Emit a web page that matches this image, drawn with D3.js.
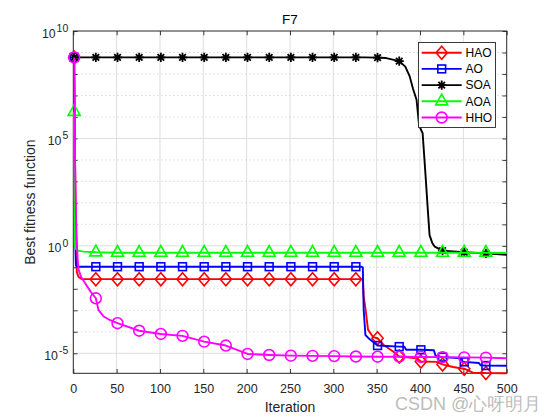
<!DOCTYPE html>
<html><head><meta charset="utf-8">
<script src="https://cdn.jsdelivr.net/npm/d3@7/dist/d3.min.js"></script>
<style>body{margin:0;background:#fff}svg{display:block}text{font-family:"Liberation Sans",Arial,sans-serif}</style>
</head><body><svg id="c" width="560" height="420"></svg>
<script>
// ---- data ----
const seriesNames = ["HAO","AO","SOA","AOA","HHO"];
const xTicks = [0,50,100,150,200,250,300,350,400,450,500];
const yMajorExp = [-5,0,5,10];

const haoIter = [1,2,3,4,6,10,26,51,76,101,126,151,176,201,226,251,276,301,326,334,335,337,340,346,351,358,369,376,396,401,419,426,438,451,461,476,500];
const haoVal  = [5.89e8,1e4,10,0.063,0.0355,0.0282,0.0282,0.0282,0.0282,0.0282,0.0282,0.0282,0.0282,0.0282,0.0282,0.0282,0.0282,0.0282,0.0282,0.0282,4.37e-3,1.26e-3,1.26e-4,5.62e-5,5.01e-5,2.45e-5,1.2e-5,7.08e-6,5.89e-6,4.17e-6,3.98e-6,3.02e-6,2.29e-6,1.91e-6,1.26e-6,1.2e-6,1.17e-6];

const aoIter = [1,2,3,4,26,51,76,101,126,151,176,201,226,251,276,301,326,332,334,335,337,342,351,376,382,384,401,416,418,426,448,449,451,468,470,476,500];
const aoVal  = [5.89e8,3.16,0.126,0.107,0.107,0.107,0.107,0.107,0.107,0.107,0.107,0.107,0.107,0.107,0.107,0.107,0.107,0.107,0.1,1.05e-3,7.08e-5,4.47e-5,2.29e-5,2.04e-5,2.0e-5,1.45e-5,1.45e-5,1.38e-5,7.59e-6,6.61e-6,5.89e-6,4.07e-6,3.98e-6,3.55e-6,2.75e-6,2.69e-6,2.63e-6];

const soaIter = [1,26,51,76,101,126,151,176,201,226,251,276,301,326,336,351,361,376,383,388,392,396,399,403,406,409,411,414,417,423,426,451,476,500];
const soaVal  = [5.89e8,5.89e8,5.89e8,5.89e8,5.89e8,5.89e8,5.89e8,5.89e8,5.89e8,5.89e8,5.89e8,5.89e8,5.89e8,5.89e8,5.89e8,5.75e8,5.5e8,3.98e8,2.19e8,7.94e7,2.0e7,6.31e6,3.98e5,1.78e5,3.16e3,46.8,3.16,1.41,0.912,0.692,0.603,0.501,0.447,0.38];

const aoaIter = [1,2,3,5,12,26,51,76,101,126,151,176,201,226,251,276,301,326,351,376,401,426,451,476,500];
const aoaVal  = [1.74e6,0.891,0.708,0.603,0.537,0.501,0.479,0.479,0.479,0.479,0.479,0.479,0.479,0.479,0.479,0.479,0.479,0.479,0.479,0.479,0.479,0.479,0.479,0.479,0.468];

const hhoIter = [1,2,3,4,5,6,9,15,20,26,29,35,42,51,76,101,126,151,176,201,226,251,276,301,326,351,376,401,426,451,476,500];
const hhoVal  = [5.89e8,1e4,31.6,2.0,0.251,0.0794,0.0355,0.0151,7.41e-3,3.63e-3,1.05e-3,5.13e-4,3.55e-4,2.51e-4,1.12e-4,7.94e-5,6.46e-5,3.47e-5,2.29e-5,9.33e-6,8.32e-6,7.76e-6,7.59e-6,7.41e-6,7.08e-6,6.92e-6,6.92e-6,6.76e-6,6.61e-6,6.46e-6,6.31e-6,5.89e-6];

// ---- styles ----
const colors = ["#ff0000","#0000ff","#000000","#00ff00","#ff00ff"];
const markers = ["diamond","square","asterisk","triangle","circle"];
const series = [[haoIter,haoVal],[aoIter,aoVal],[soaIter,soaVal],[aoaIter,aoaVal],[hhoIter,hhoVal]]
  .map(([it,v],i)=>({name:seriesNames[i],color:colors[i],marker:markers[i],pts:it.map((t,j)=>[t,v[j]])}));
const markerSet = new Set(d3.range(1,500,25));

const svg = d3.select("#c");
const L=73.3,R=506.7,T=31,B=373.3;
const ymin = d3.min(series, s=>d3.min(s.pts,p=>p[1]));
const x = d3.scaleLinear().domain([0,500]).range([L,R]);
const y = d3.scaleLog().domain([ymin,1e10]).range([B,T]);
const axisCol="#262626";

// grid
const g = svg.append("g");
xTicks.filter(t=>t>0&&t<500).forEach(t=>{
  g.append("line").attr("x1",x(t)).attr("x2",x(t)).attr("y1",T).attr("y2",B)
   .attr("stroke","#dedede").attr("stroke-width",1);
});
d3.range(-5,11).forEach(e=>{
  const yy=y(Math.pow(10,e));
  if(yy<=T+0.5) return;
  const major = e%5===0;
  g.append("line").attr("x1",L).attr("x2",R).attr("y1",yy).attr("y2",yy)
   .attr("stroke",major?"#dedede":"#bdbdbd").attr("stroke-width",major?1:0.8)
   .attr("stroke-dasharray",major?null:"1,3");
});

// axes ticks
const tk=4.3;
const decadeVals = d3.range(-5,11).map(e=>Math.pow(10,e));
const ax = (a)=>a.tickSizeOuter(0).tickSizeInner(-tk);
const gb = svg.append("g").attr("transform",`translate(0,${B})`)
  .call(ax(d3.axisBottom(x).tickValues(xTicks)).tickPadding(11).tickFormat(d3.format("d")));
svg.append("g").attr("transform",`translate(0,${T})`).call(ax(d3.axisTop(x).tickValues(xTicks)).tickFormat(""));
svg.append("g").attr("transform",`translate(${L},0)`).call(ax(d3.axisLeft(y).tickValues(decadeVals)).tickFormat(""));
svg.append("g").attr("transform",`translate(${R},0)`).call(ax(d3.axisRight(y).tickValues(decadeVals)).tickFormat(""));
svg.selectAll(".domain").remove();
svg.selectAll(".tick line").attr("stroke",axisCol).attr("stroke-width",0.9);
gb.selectAll(".tick text").attr("fill",axisCol).attr("font-size",12.5).attr("font-family","Liberation Sans, Arial, sans-serif");

// y labels
yMajorExp.forEach(e=>{
  const yy=y(Math.pow(10,e));
  const t=svg.append("text").attr("x",L-5).attr("y",yy+6.5).attr("text-anchor","end")
    .attr("fill",axisCol).attr("font-size",12.3);
  t.append("tspan").text("10");
  t.append("tspan").attr("dy",-5.5).attr("dx",1).attr("font-size",10.5).text(String(e));
});

// box
svg.append("rect").attr("x",L).attr("y",T).attr("width",R-L).attr("height",B-T)
  .attr("fill","none").attr("stroke",axisCol).attr("stroke-width",1);

// marker drawing
function drawMarker(sel, type, color, cx, cy){
  const m = sel.append("g").attr("transform",`translate(${cx},${cy})`);
  if(type==="diamond") m.append("path").attr("d","M0,-6.5L5.6,0L0,6.5L-5.6,0Z").attr("fill","none").attr("stroke",color).attr("stroke-width",1.6);
  else if(type==="square") m.append("rect").attr("x",-3.9).attr("y",-3.9).attr("width",7.8).attr("height",7.8).attr("fill","none").attr("stroke",color).attr("stroke-width",1.6);
  else if(type==="circle") m.append("circle").attr("r",5.4).attr("fill","none").attr("stroke",color).attr("stroke-width",1.6);
  else if(type==="triangle") m.append("path").attr("d","M0,-7.2L6,3.6L-6,3.6Z").attr("fill","none").attr("stroke",color).attr("stroke-width",1.6);
  else if(type==="asterisk"){
    const r=4.6, d=3.3;
    m.append("path").attr("d",`M${-r},0L${r},0M0,${-r}L0,${r}M${-d},${-d}L${d},${d}M${-d},${d}L${d},${-d}`)
      .attr("stroke",color).attr("stroke-width",1.8).attr("fill","none");
  }
}

const line = d3.line().x(d=>x(d[0])).y(d=>y(d[1]));
series.forEach(s=>{
  const sg = svg.append("g");
  sg.append("path").attr("d",line(s.pts)).attr("fill","none").attr("stroke",s.color)
    .attr("stroke-width",1.9).attr("stroke-linejoin","round");
  s.pts.filter(p=>markerSet.has(p[0])).forEach(p=>drawMarker(sg,s.marker,s.color,x(p[0]),y(p[1])));
});

// legend
const lg = svg.append("g");
lg.append("rect").attr("x",418.5).attr("y",42.5).attr("width",77).attr("height",85)
  .attr("fill","#fff").attr("stroke",axisCol).attr("stroke-width",0.9);
series.forEach((s,i)=>{
  const yy = 52.7 + i*16.2;
  lg.append("line").attr("x1",421.7).attr("x2",461.7).attr("y1",yy).attr("y2",yy)
    .attr("stroke",s.color).attr("stroke-width",1.9);
  drawMarker(lg,s.marker,s.color,441.7,yy);
  lg.append("text").attr("x",465.5).attr("y",yy+4.3).attr("font-size",12).attr("fill","#000").text(s.name);
});

// titles
svg.append("text").attr("x",(L+R)/2).attr("y",24).attr("text-anchor","middle").attr("font-size",13.5).attr("fill","#000").text("F7");
svg.append("text").attr("x",(L+R)/2).attr("y",411.5).attr("text-anchor","middle").attr("font-size",14).attr("fill",axisCol).text("Iteration");
svg.append("text").attr("transform",`translate(34.5,${(T+B)/2}) rotate(-90)`).attr("text-anchor","middle")
  .attr("font-size",14).attr("fill",axisCol).text("Best fitness function");

// watermark
svg.append("text").attr("x",395).attr("y",410).attr("font-size",18)
  .attr("font-family","'Liberation Sans','Noto Sans CJK SC',sans-serif").attr("fill","#b4b4b4")
  .attr("fill-opacity",0.9).text("CSDN @心呀明月");
</script></body></html>
